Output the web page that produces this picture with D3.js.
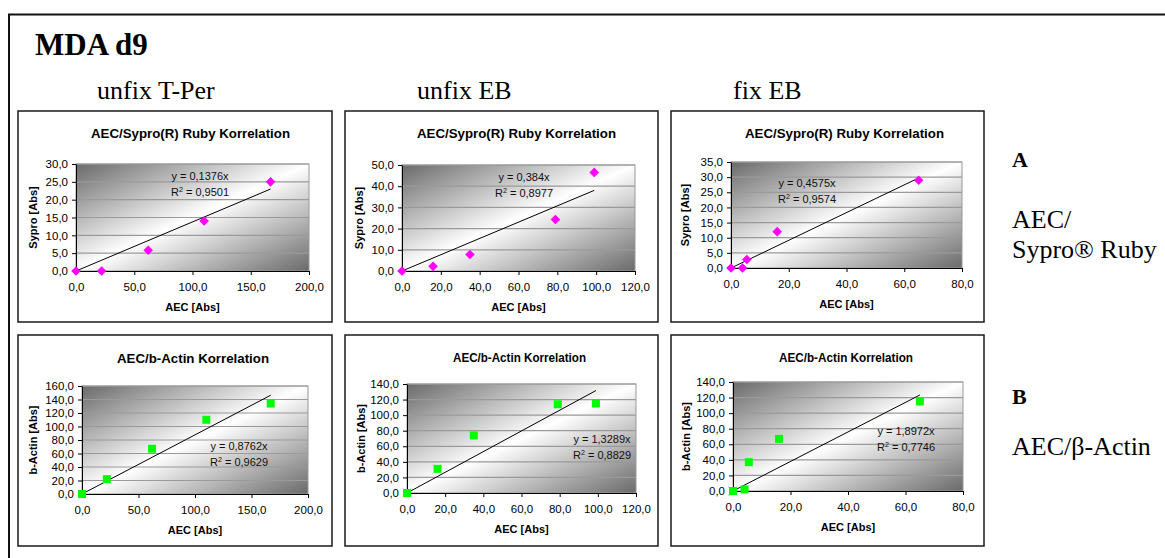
<!DOCTYPE html>
<html>
<head>
<meta charset="utf-8">
<script src="https://cdn.jsdelivr.net/npm/d3@7"></script>
<style>
  body { margin: 0; background: #fff; }
  svg { display: block; }
  .tick text { font-family: "Liberation Sans", Arial, sans-serif; font-size: 11.5px; fill: #000; }
  .tick line { stroke: #000; }
  .domain { stroke: #000; }
</style>
</head>
<body>
<svg id="chart" width="1165" height="558"></svg>
<script>
// AEC values per preparation (x axis)
var aecTPer = [0, 22, 62, 110, 167];
var aecUnfixEB = [0, 16, 35, 79, 99];
var aecFixEB = [0, 4, 5.5, 16, 65];

// Sypro Ruby (row A)
var syproTPer = [0, 0, 5.8, 14, 25];
var syproUnfixEB = [0, 2.2, 7.8, 24.3, 46.5];
var syproFixEB = [0, 0, 2.8, 12, 29];

// b-Actin (row B)
var actinTPer = [0, 22, 67, 110, 134];
var actinUnfixEB = [0, 31, 74, 114, 115];
var actinFixEB = [0, 2, 37, 67, 115];

// trendline fits (y = a*x) and R^2
var syproSlopes = [0.1376, 0.384, 0.4575];
var syproR2 = ["0,9501", "0,8977", "0,9574"];
var actinSlopes = [0.8762, 1.3289, 1.8972];
var actinR2 = ["0,9629", "0,8829", "0,7746"];

// axis ranges
var xMaxes = [200, 120, 80];
var xSteps = [50, 20, 20];
var syproYMax = [30, 50, 35];
var syproYStep = [5, 10, 5];
var actinYMax = [160, 140, 140];
var actinYStep = [20, 20, 20];

var columnNames = ["unfix T-Per", "unfix EB", "fix EB"];

var fmt = d3.formatLocale({ decimal: ",", thousands: ".", grouping: [3], currency: ["", ""] }).format(".1f");

var svg = d3.select("#chart");
var defs = svg.append("defs");

// Excel style diagonal gradient
var grad = defs.append("linearGradient")
    .attr("id", "plotGrad")
    .attr("x1", 0).attr("y1", 0).attr("x2", 1).attr("y2", 1);
grad.append("stop").attr("offset", "0%").attr("stop-color", "#6a6a6a");
grad.append("stop").attr("offset", "50%").attr("stop-color", "#ffffff");
grad.append("stop").attr("offset", "100%").attr("stop-color", "#6a6a6a");

// outer frame (open to the right and bottom)
svg.append("path")
    .attr("d", "M1165,14.5H9V558")
    .attr("fill", "none")
    .attr("stroke", "#111")
    .attr("stroke-width", 2);

var serif = "'Liberation Serif', 'Times New Roman', serif";
var sans = "'Liberation Sans', Arial, sans-serif";

svg.append("text").attr("x", 35).attr("y", 55)
    .style("font-family", serif).style("font-size", "31px").style("font-weight", "bold")
    .text("MDA d9");

var headerX = [97, 417, 733];
columnNames.forEach(function(n, i) {
  svg.append("text").attr("x", headerX[i]).attr("y", 99)
      .style("font-family", serif).style("font-size", "26px")
      .text(n);
});

// row labels on the right
function serifText(x, y, size, weight, txt) {
  svg.append("text").attr("x", x).attr("y", y)
      .style("font-family", serif).style("font-size", size + "px").style("font-weight", weight)
      .text(txt);
}
serifText(1012, 167, 22, "bold", "A");
serifText(1012, 228, 26, "normal", "AEC/");
serifText(1012, 258, 26, "normal", "Sypro® Ruby");
serifText(1012, 404, 22, "bold", "B");
serifText(1012, 455, 26, "normal", "AEC/β-Actin");

// panel geometry: box [x0,y0,x1,y1], plot [left,top,right,bottom]
var layout = [
  { box: [18, 111, 332, 322], plot: [76, 164, 309, 271], titleY: 138, titleW: 199, lab: [200, 180], yTitleX: 33 },
  { box: [345, 111, 658, 322], plot: [402, 165, 635, 271], titleY: 138, titleW: 199, lab: [524, 181], yTitleX: 359 },
  { box: [671, 111, 984, 322], plot: [731, 162, 962, 268], titleY: 138, titleW: 199, lab: [807, 187], yTitleX: 685 },
  { box: [18, 335, 332, 546], plot: [82, 386, 308, 494], titleY: 363, titleW: 152, lab: [239, 450], yTitleX: 33 },
  { box: [345, 335, 658, 546], plot: [407, 384, 636, 493], titleY: 362, titleW: 133, lab: [602, 443], yTitleX: 361 },
  { box: [671, 335, 984, 546], plot: [733, 382, 963, 491], titleY: 362, titleW: 134, lab: [906, 435], yTitleX: 686 }
];

var aecs = [aecTPer, aecUnfixEB, aecFixEB];
var syproVals = [syproTPer, syproUnfixEB, syproFixEB];
var actinVals = [actinTPer, actinUnfixEB, actinFixEB];

var charts = [];
for (var c = 0; c < 3; c++) {
  charts.push({ aec: aecs[c], vals: syproVals[c], slope: syproSlopes[c], r2: syproR2[c],
    xMax: xMaxes[c], xStep: xSteps[c], yMax: syproYMax[c], yStep: syproYStep[c],
    title: "AEC/Sypro(R) Ruby Korrelation", yTitle: "Sypro [Abs]", marker: "diamond", color: "#ff00ff" });
}
for (var c = 0; c < 3; c++) {
  charts.push({ aec: aecs[c], vals: actinVals[c], slope: actinSlopes[c], r2: actinR2[c],
    xMax: xMaxes[c], xStep: xSteps[c], yMax: actinYMax[c], yStep: actinYStep[c],
    title: "AEC/b-Actin Korrelation", yTitle: "b-Actin [Abs]", marker: "square", color: "#00ff00" });
}

charts.forEach(function(ch, i) {
  var L = layout[i];
  var p = L.plot;
  var g = svg.append("g");

  g.append("rect")
      .attr("x", L.box[0]).attr("y", L.box[1])
      .attr("width", L.box[2] - L.box[0]).attr("height", L.box[3] - L.box[1])
      .attr("fill", "#fff").attr("stroke", "#1a1a1a").attr("stroke-width", 1.5);

  var x = d3.scaleLinear().domain([0, ch.xMax]).range([p[0], p[2]]);
  var y = d3.scaleLinear().domain([0, ch.yMax]).range([p[3], p[1]]);

  g.append("rect")
      .attr("x", p[0]).attr("y", p[1])
      .attr("width", p[2] - p[0]).attr("height", p[3] - p[1])
      .attr("fill", "url(#plotGrad)").attr("stroke", "#999").attr("stroke-width", 1);

  var yTicks = d3.range(0, ch.yMax + ch.yStep / 2, ch.yStep);
  var xTicks = d3.range(0, ch.xMax + ch.xStep / 2, ch.xStep);

  // gridlines
  g.selectAll("line.grid")
      .data(yTicks.filter(function(t) { return t > 0; }))
      .enter().append("line")
      .attr("class", "grid")
      .attr("x1", p[0]).attr("x2", p[2])
      .attr("y1", function(d) { return y(d); }).attr("y2", function(d) { return y(d); })
      .attr("stroke", "#9a9a9a").attr("stroke-width", 1.2);

  g.append("g")
      .attr("transform", "translate(" + p[0] + ",0)")
      .call(d3.axisLeft(y).tickValues(yTicks).tickFormat(fmt).tickSize(4).tickSizeOuter(0).tickPadding(4));

  g.append("g")
      .attr("transform", "translate(0," + p[3] + ")")
      .call(d3.axisBottom(x).tickValues(xTicks).tickFormat(fmt).tickSize(4).tickSizeOuter(0).tickPadding(8));

  var cx = (p[0] + p[2]) / 2;

  g.append("text")
      .attr("x", cx - 2).attr("y", L.titleY)
      .attr("text-anchor", "middle")
      .attr("textLength", L.titleW).attr("lengthAdjust", "spacingAndGlyphs")
      .style("font-family", sans).style("font-size", "12.5px").style("font-weight", "bold")
      .text(ch.title);

  g.append("text")
      .attr("x", cx).attr("y", p[3] + 40)
      .attr("text-anchor", "middle")
      .style("font-family", sans).style("font-size", "11px").style("font-weight", "bold")
      .text("AEC [Abs]");

  g.append("text")
      .attr("transform", "translate(" + (L.yTitleX + 4) + "," + ((p[1] + p[3]) / 2) + ") rotate(-90)")
      .attr("text-anchor", "middle")
      .style("font-family", sans).style("font-size", "11px").style("font-weight", "bold")
      .text(ch.yTitle);

  // linear trendline through the origin
  var xEnd = d3.max(ch.aec);
  g.append("line")
      .attr("x1", x(0)).attr("y1", y(0))
      .attr("x2", x(xEnd)).attr("y2", y(ch.slope * xEnd))
      .attr("stroke", "#000").attr("stroke-width", 1);

  var pts = ch.aec.map(function(a, k) { return { x: a, y: ch.vals[k] }; });
  var sym = ch.marker == "diamond"
      ? d3.symbol().type(d3.symbolSquare).size(46)
      : d3.symbol().type(d3.symbolSquare).size(64);
  g.selectAll("path.pt")
      .data(pts)
      .enter().append("path")
      .attr("class", "pt")
      .attr("d", sym)
      .attr("transform", function(d) {
        return "translate(" + x(d.x) + "," + y(d.y) + ")" + (ch.marker == "diamond" ? " rotate(45)" : "");
      })
      .attr("fill", ch.color);

  // trendline equation
  var fs = 11;
  g.append("text")
      .attr("x", L.lab[0]).attr("y", L.lab[1])
      .attr("text-anchor", "middle")
      .style("font-family", sans).style("font-size", fs + "px").style("fill", "#111")
      .text("y = " + String(ch.slope).replace(".", ",") + "x");
  var r = g.append("text")
      .attr("x", L.lab[0]).attr("y", L.lab[1] + 16)
      .attr("text-anchor", "middle")
      .style("font-family", sans).style("font-size", fs + "px").style("fill", "#111");
  r.append("tspan").text("R");
  r.append("tspan").attr("dy", -4).style("font-size", (fs * 0.65) + "px").text("2");
  r.append("tspan").attr("dy", 4).text(" = " + ch.r2);
});
</script>
</body>
</html>
